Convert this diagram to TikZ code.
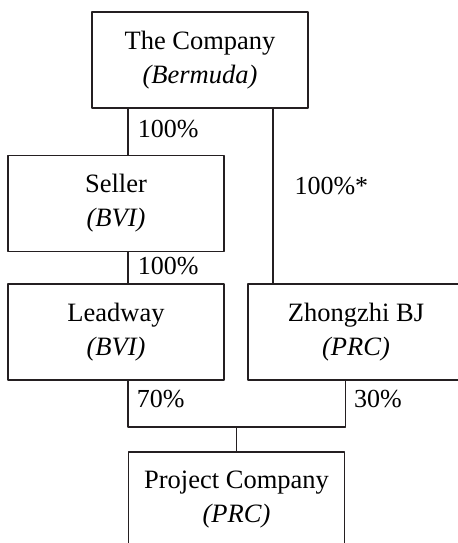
\documentclass[tikz,border=0pt]{standalone}
\usepackage{fontspec}
\setmainfont{Liberation Serif}
\begin{document}
\begin{tikzpicture}[>=latex,line join=bevel,]
  \pgfsetlinewidth{1.5bp}
  \definecolor{ink}{rgb}{0.14,0.12,0.13}
  \pgfsetcolor{ink}
  \tikzset{entity/.style={draw,rectangle,minimum width=216bp,minimum height=96bp,inner sep=0pt,align=center,font=\fontsize{26.5bp}{34bp}\selectfont},
    share/.style={font=\fontsize{26bp}{30bp}\selectfont,anchor=west,inner sep=0pt}}
  \useasboundingbox (0bp,0bp) rectangle (458bp,543bp);
  \clip (0bp,0bp) rectangle (458bp,543bp);
%%
  % Node: company
  \node [entity] (company) at (200bp,483bp) {The Company\\\textit{(Bermuda)}};
  % Node: seller
  \node [entity] (seller) at (116bp,339.5bp) {Seller\\\textit{(BVI)}};
  % Node: leadway
  \node [entity] (leadway) at (116bp,211bp) {Leadway\\\textit{(BVI)}};
  % Node: zhongzhi
  \node [entity] (zhongzhi) at (356bp,211bp) {Zhongzhi BJ\\\textit{(PRC)}};
  % Node: project
  \node [entity] (project) at (236.5bp,43bp) {Project Company\\\textit{(PRC)}};
  \coordinate (join) at ([yshift=24bp]project.north);
  % Edge: company -> seller
  \draw ([xshift=12bp]seller.north |- company.south) -- node [share, xshift=9bp, yshift=3bp] {100\%} ([xshift=12bp]seller.north);
  % Edge: seller -> leadway
  \draw ([xshift=12bp]seller.south) -- node [share, xshift=9bp, yshift=2bp] {100\%} ([xshift=12bp]leadway.north);
  % Edge: company -> zhongzhi
  \draw ([xshift=-36bp]company.south east) -- node [share, pos=0.44, xshift=21bp] {100\%*} ([xshift=-36bp]company.south east |- zhongzhi.north);
  % Edge: leadway -> project
  \draw ([xshift=12bp]leadway.south) |- node [share, pos=0.25, xshift=8bp, yshift=5bp] {70\%} (join);
  % Edge: zhongzhi -> project
  \draw (zhongzhi.south -| project.east) |- node [share, pos=0.25, xshift=8bp, yshift=5bp] {30\%} (join);
  \draw (join) -- (project.north);
%
\end{tikzpicture}
\end{document}
